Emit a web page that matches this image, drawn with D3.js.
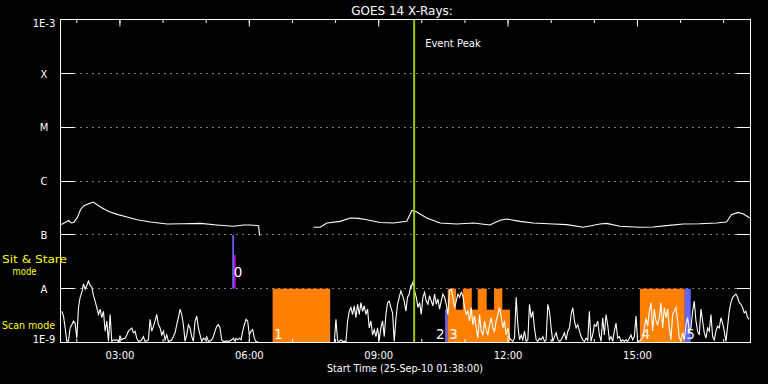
<!DOCTYPE html>
<html><head><meta charset="utf-8">
<script src="https://cdn.jsdelivr.net/npm/d3@7"></script>
<style>html,body{margin:0;padding:0;background:#000;} svg{display:block;}</style>
</head><body>
<svg id="chart" width="768" height="384"></svg>
<script>
// ---------------- data ----------------
const chartTitle = "GOES 14 X-Rays:";
const xTitle = "Start Time (25-Sep-10 01:38:00)";
const startTime = new Date(2010, 8, 25, 1, 38);
const endTime = new Date(2010, 8, 25, 17, 38);
const eventPeakMinute = 492;           // minutes after start (09:50)
const eventLabel = "Event Peak";
const yTickValues = [1e-9, 1e-8, 1e-7, 1e-6, 1e-5, 1e-4, 1e-3];
const yTickLabels = ["1E-9", "A", "B", "C", "M", "X", "1E-3"];
const xMajorHours = [3, 6, 9, 12, 15];
const modeSit = ["Sit & Stare", "mode"];
const modeScan = "Scan mode";

// GOES long channel flux (W/m^2), minutes after start; null = data gap
const goesMinutes = [1.4, 11.5, 14.9, 18.5, 23.2, 27.8, 32.4, 39.3, 45.4, 51, 58, 67.1, 78.8, 92.7, 106.6, 125.1, 148.3, 171.4, 194.6, 217.8, 240.9, 254.8, 264.1, 275.6, 277,
  300,
  352, 361.3, 370.7, 389.1, 403.0, 414.6, 426.3, 444.7, 463.2, 481.8, 488.8, 495.7, 509.6, 528.1, 551.3, 574.4, 597.6, 611.5, 620.8, 639.3, 657.8, 685.6, 704.2, 727.3, 750.5, 759.8, 778.3, 806.1, 824.6, 843.2, 866.3, 889.5, 912.7, 926.6, 933.5, 942.7, 949.7, 959];
const goesFlux = [1.55e-7, 1.86e-7, 1.66e-7, 1.70e-7, 2.06e-7, 2.93e-7, 3.48e-7, 3.79e-7, 4.07e-7, 3.63e-7, 3.15e-7, 2.72e-7, 2.40e-7, 2.15e-7, 1.91e-7, 1.73e-7, 1.59e-7, 1.61e-7, 1.63e-7, 1.52e-7, 1.44e-7, 1.52e-7, 1.52e-7, 1.48e-7, 9.7e-8,
  null,
  1.38e-7, 1.38e-7, 1.66e-7, 1.78e-7, 2.06e-7, 2.02e-7, 1.91e-7, 1.70e-7, 1.66e-7, 1.78e-7, 2.84e-7, 2.66e-7, 2.06e-7, 1.66e-7, 1.59e-7, 1.66e-7, 1.52e-7, 1.86e-7, 1.97e-7, 1.78e-7, 1.66e-7, 1.59e-7, 1.55e-7, 1.38e-7, 1.59e-7, 1.63e-7, 1.44e-7, 1.38e-7, 1.40e-7, 1.48e-7, 1.59e-7, 1.61e-7, 1.66e-7, 1.73e-7, 2.37e-7, 2.61e-7, 2.47e-7, 2.06e-7];

// Scan-mode intensity (percent of band), sampled every scanStep minutes
const scanStep = 2.317;
const scanSegStarts = [1.85, 244.2, 488.0, 733.5];
const scanSeg1 = [58,49,27,2,3,27,33,40,36,8, 65,84,93,109,99,106,114,106,103,87, 77,65,52,62,46,58,21,40,2,52, 2,5,4,5,2,11,5,7,8,14, 21,24,27,18,21,8,2,3,5,11, 2,3,5,43,21,30,40,52,33,27, 14,21,5,14,2,3,5,11,18,33, 46,62,52,33,2,14,33,27,11,2, 40,49,27,14,2,8,5,11,2,3, 5,11,21,30,33,27,5,2,2,3, 2,3,5,8,2];
const scanSeg2 = [8,5,8,5,21,33,43,40,14,21, 24,8,2,1, 0,0,0,0,0,0,0,0,
  0,0,0,0,0,0,0,0,0,0, 0,0,0,0,0,0,0,0,0,0, 0,0,0,0,0,0,0,0,0,0, 0,0,0,0,0,
  0,0,0,43,3,2,5,2,2,2, 40,58,65,52,68,46,71,52,74,58, 68,52,62,27,40,14,24,11,27,5, 27,40,11,52,74,77,65,55,2,43, 71,84,96,87,77,58,84,90,106];
const scanSeg3 = [103,112,96,84,65,74,52,84,93,77, 71,87,77,68,90,71,81,62,77,90, 84,71,52,96,99,84,65,77,90,84, 93,87,65,52,58,40,65,33,49,27, 8,52,21,14,40,24,14,33,46,27, 21,40,52,65,49,27,40,14,27,8, 5,2,8,84,33,5,14,5,21,2, 5,71,46,58,27,5,2,8,5,11, 2,5,71,58,27,2,11,18,5,2, 5,11,18,5,21,27,52,65,40,27, 33,21,11,5,2,8,5];
const scanSeg4 = [2,58,2,14,33,30,40,14,2,46, 14,52,33,5,11,2,21,36,8,11, 2,5,2,5,2,8,14,5,11,49, 2,3,5,8,27,46,30,58,74,21, 62,40,33,46,74,27,65,46,62,27, 5,52,58,65,40,8,5,18,5,33, 46,21,27,58,77,40,21,14,62,40, 18,8,27,21,52,11,5,21,30,27, 46,36,21,2,30,58,74,84,87,90, 84,74,71,65,55,58,46,43];

// Observations: band, start/end minutes, fill level (fraction of band), colour key
const obsBand  = ["sit", "sit", "scan", "scan", "scan", "scan", "scan", "scan", "scan", "scan", "scan"];
const obsStart = [239.0, 241.4, 295.1, 535.1, 538.8, 538.8, 559.7, 580.5, 603.2, 806.1, 868.6];
const obsEnd   = [241.4, 243.6, 375.2, 538.8, 625.4, 550.4, 572.2, 593.0, 614.7, 868.6, 876.9];
const obsLevel = [1, 0.63, 1, 0.61, 0.61, 1, 1, 1, 1, 1, 1];
const obsKind  = ["blue", "magenta", "orange", "blue", "orange", "orange", "orange", "orange", "orange", "orange", "blue"];
const obsLabelText = ["0", "1", "2", "3", "4", "5"];
const obsLabelBand = ["sit", "scan", "scan", "scan", "scan", "scan"];
const obsLabelMin  = [239.0, 295.1, 535.1, 538.8, 806.1, 868.6];
const obsLabelAnchor = ["start", "start", "end", "start", "start", "start"];

// ---------------- drawing ----------------
const colors = {blue: "#6464ff", magenta: "#c800c8", orange: "#ff8000", green: "#99cc00", yellow: "#ffff00"};
const FONT = "DejaVu Sans, Verdana, sans-serif";
const svg = d3.select("#chart");
svg.append("rect").attr("width", 768).attr("height", 384).attr("fill", "#000");

const L = 60.5, R = 750.5, T = 19.5, B = 342.5;
const x = d3.scaleTime().domain([startTime, endTime]).range([L, R]);
const y = d3.scaleLog().domain([1e-9, 1e-3]).range([B, T]);
const minToDate = m => new Date(startTime.getTime() + m * 60000);
const snap = v => Math.round(v - 0.5) + 0.5;

// bands
const bandBottom = {sit: y(1e-8), scan: y(1e-9)};
const bandTop = {sit: y(1e-7), scan: y(1e-8)};
const level = {};
for (const b of ["sit", "scan"]) level[b] = d3.scaleLinear().domain([0, 1]).range([bandBottom[b], bandTop[b]]);
const scanY = d3.scaleLinear().domain([0, 100]).range([y(1e-9), y(1e-8)]);

// dotted grid lines at interior decades
svg.append("g").selectAll("line").data(yTickValues.slice(1, -1)).join("line")
  .attr("x1", L + 14).attr("x2", R - 14)
  .attr("y1", d => snap(y(d))).attr("y2", d => snap(y(d)))
  .attr("stroke", "#fff").attr("stroke-width", 1).attr("stroke-dasharray", "1,5");

// observation rectangles
const obs = obsStart.map((s, i) => ({band: obsBand[i], s, e: obsEnd[i], lv: obsLevel[i], kind: obsKind[i]}));
svg.append("g").selectAll("rect").data(obs).join("rect")
  .attr("x", d => x(minToDate(d.s)))
  .attr("width", d => Math.max(1.5, x(minToDate(d.e)) - x(minToDate(d.s))))
  .attr("y", d => level[d.band](d.lv))
  .attr("height", d => level[d.band](0) - level[d.band](d.lv))
  .attr("fill", d => colors[d.kind]);

// scan-mode curve
const scanData = [];
[scanSeg1, scanSeg2, scanSeg3, scanSeg4].forEach((seg, k) => {
  seg.forEach((v, i) => scanData.push({t: minToDate(scanSegStarts[k] + i * scanStep), v}));
});
svg.append("path").datum(scanData)
  .attr("d", d3.line().x(d => x(d.t)).y(d => scanY(d.v)))
  .attr("fill", "none").attr("stroke", "#fff").attr("stroke-width", 1.1);

// GOES curve
const goesData = goesMinutes.map((m, i) => ({t: minToDate(m), f: goesFlux[i]}));
svg.append("path").datum(goesData)
  .attr("d", d3.line().defined(d => d.f !== null).x(d => x(d.t)).y(d => y(d.f)))
  .attr("fill", "none").attr("stroke", "#fff").attr("stroke-width", 1.1);

// observation labels
svg.append("g").selectAll("text").data(obsLabelText).join("text")
  .attr("x", (d, i) => x(minToDate(obsLabelMin[i])) + (obsLabelAnchor[i] === "end" ? -0.5 : 1.5))
  .attr("text-anchor", (d, i) => obsLabelAnchor[i])
  .attr("y", (d, i) => obsLabelBand[i] === "sit" ? bandBottom.sit - 12 : bandBottom.scan - 3.5)
  .attr("fill", "#fff").attr("font-family", FONT).attr("font-size", 13.5)
  .text(d => d);

// event peak line
const xe = x(minToDate(eventPeakMinute));
svg.append("line").attr("x1", xe).attr("x2", xe).attr("y1", T).attr("y2", B)
  .attr("stroke", colors.green).attr("stroke-width", 2);
svg.append("text").attr("x", xe + 11).attr("y", 47).attr("fill", "#fff")
  .attr("font-family", FONT).attr("font-size", 10).text(eventLabel);

// frame
svg.append("rect").attr("x", L).attr("y", T).attr("width", R - L).attr("height", B - T)
  .attr("fill", "none").attr("stroke", "#fff").attr("stroke-width", 1);

// y ticks (left and right, inward)
const yl = svg.append("g").attr("transform", `translate(${L},0)`)
  .call(d3.axisLeft(y).tickValues(yTickValues).tickSize(-14).tickFormat(""));
const yr = svg.append("g").attr("transform", `translate(${R},0)`)
  .call(d3.axisRight(y).tickValues(yTickValues).tickSize(-14).tickFormat(""));
[yl, yr].forEach(g => {
  g.select(".domain").remove();
  g.selectAll(".tick").attr("transform", d => `translate(0,${snap(y(d))})`);
  g.selectAll(".tick line").attr("stroke", "#fff");
});

// y labels
svg.append("g").selectAll("text").data(yTickValues).join("text")
  .attr("x", 44).attr("text-anchor", "middle")
  .attr("y", (d, i) => y(d) + (i === 0 ? 0.5 : i === yTickValues.length - 1 ? 7.3 : 4.3))
  .attr("fill", "#fff").attr("font-family", FONT).attr("font-size", 10)
  .text((d, i) => yTickLabels[i]);

// x ticks: minor hourly, major with labels
const hourTicks = d3.timeHour.every(1).range(startTime, endTime);
const majorTicks = xMajorHours.map(h => new Date(2010, 8, 25, h, 0));
function xTicks(axisGen, yPos, ticks, size) {
  const g = svg.append("g").attr("transform", `translate(0,${yPos})`)
    .call(axisGen(x).tickValues(ticks).tickSize(size).tickFormat(""));
  g.select(".domain").remove();
  g.selectAll(".tick line").attr("stroke", "#fff");
  return g;
}
xTicks(d3.axisBottom, B, hourTicks, -3.5);
xTicks(d3.axisBottom, B, majorTicks, -7);
xTicks(d3.axisTop, T, hourTicks, -3.5);
xTicks(d3.axisTop, T, majorTicks, -7);

const xl = svg.append("g").attr("transform", `translate(0,${B})`)
  .call(d3.axisBottom(x).tickValues(majorTicks).tickSize(0).tickPadding(9).tickFormat(d3.timeFormat("%H:%M")));
xl.select(".domain").remove();
xl.selectAll("text").attr("fill", "#fff").attr("font-family", FONT).attr("font-size", 10);

// titles
svg.append("text").attr("x", 402).attr("y", 15).attr("text-anchor", "middle")
  .attr("fill", "#fff").attr("font-family", FONT).attr("font-size", 12).text(chartTitle);
svg.append("text").attr("x", 405).attr("y", 372).attr("text-anchor", "middle")
  .attr("fill", "#fff").attr("font-family", FONT).attr("font-size", 9.6).text(xTitle);

// mode labels
svg.append("text").attr("x", 2).attr("y", 263).attr("fill", colors.yellow)
  .attr("font-family", FONT).attr("font-size", 10).attr("textLength", 65).attr("lengthAdjust", "spacingAndGlyphs").text(modeSit[0]);
svg.append("text").attr("x", 12.5).attr("y", 275).attr("fill", colors.yellow)
  .attr("font-family", FONT).attr("font-size", 10).attr("textLength", 24).attr("lengthAdjust", "spacingAndGlyphs").text(modeSit[1]);
svg.append("text").attr("x", 2).attr("y", 328.5).attr("fill", colors.yellow)
  .attr("font-family", FONT).attr("font-size", 10.5).attr("textLength", 53).attr("lengthAdjust", "spacingAndGlyphs").text(modeScan);
</script>
</body></html>
